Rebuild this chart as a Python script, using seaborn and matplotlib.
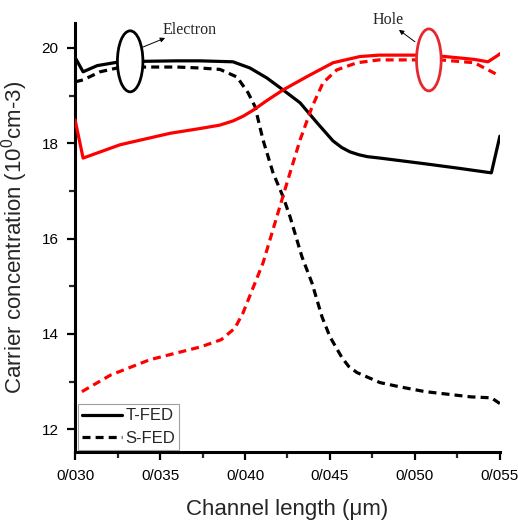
import numpy as np
import pandas as pd
import matplotlib
matplotlib.use("Agg")
import matplotlib.pyplot as plt
import seaborn as sns
from matplotlib.patches import Ellipse
from matplotlib.lines import Line2D

# ---- data ----
x_te = [0.0300, 0.03047, 0.0313, 0.03247, 0.0340, 0.0360, 0.03735, 0.03929, 0.04029, 0.04129,
        0.04224, 0.04324, 0.04424, 0.04518, 0.0457, 0.04618, 0.0467, 0.0472, 0.04794, 0.0506,
        0.0525, 0.0545, 0.0550]
y_te = [19.80, 19.50, 19.63, 19.70, 19.72, 19.73, 19.73, 19.71, 19.58, 19.37,
        19.12, 18.85, 18.43, 18.05, 17.91, 17.82, 17.76, 17.72, 17.69, 17.57,
        17.48, 17.38, 18.15]

x_se = [0.0300, 0.03047, 0.03147, 0.03247, 0.0340, 0.0360, 0.03735, 0.03853, 0.03953, 0.04018,
        0.04059, 0.04106, 0.04165, 0.04224, 0.04265, 0.04335, 0.04394, 0.04453, 0.0450, 0.04571,
        0.0461, 0.04659, 0.04794, 0.04912, 0.0506, 0.0533, 0.0545, 0.0550]
y_se = [19.29, 19.33, 19.50, 19.58, 19.60, 19.60, 19.58, 19.55, 19.39, 19.06,
        18.77, 18.07, 17.38, 16.88, 16.46, 15.62, 15.07, 14.36, 13.94, 13.50,
        13.32, 13.19, 12.98, 12.89, 12.79, 12.68, 12.66, 12.54]

x_th = [0.0300, 0.03047, 0.03265, 0.03559, 0.03735, 0.0385, 0.0393, 0.0399, 0.0405, 0.0413,
        0.04224, 0.04365, 0.04518, 0.04676, 0.0479, 0.0500, 0.0515, 0.0535, 0.0543, 0.0549,
        0.0550]
y_th = [18.49, 17.69, 17.97, 18.21, 18.31, 18.38, 18.47, 18.57, 18.70, 18.90,
        19.12, 19.40, 19.69, 19.82, 19.85, 19.85, 19.83, 19.76, 19.71, 19.85,
        19.88]

x_sh = [0.0304, 0.0321, 0.0344, 0.0374, 0.0386, 0.0394, 0.03988, 0.04106, 0.04194, 0.04247,
        0.04324, 0.04394, 0.04459, 0.0454, 0.04659, 0.0479, 0.0515, 0.0535, 0.0549]
y_sh = [12.79, 13.14, 13.46, 13.73, 13.88, 14.12, 14.44, 15.49, 16.54, 17.17,
        18.07, 18.76, 19.27, 19.54, 19.69, 19.75, 19.75, 19.69, 19.43]

x_ticks = [0.030, 0.035, 0.040, 0.045, 0.050, 0.055]
x_tick_labels = ["0/030", "0/035", "0/040", "0/045", "0/050", "0/055"]
y_ticks = [12, 14, 16, 18, 20]
legend_labels = ["T-FED", "S-FED"]

# ---- style ----
sns.set_style("ticks")
plt.rcParams["font.family"] = ["Liberation Sans", "DejaVu Sans"]
plt.rcParams["mathtext.fontset"] = "custom"
plt.rcParams["mathtext.rm"] = "Liberation Sans"
plt.rcParams["mathtext.it"] = "Liberation Sans"

fig = plt.figure(figsize=(5.18, 5.27), dpi=100)
ax = fig.add_axes([0.145, 0.142, 0.820, 0.814])

lw = 2.3
dash = (0, (2.5, 1.6))
sns.lineplot(x=x_te, y=y_te, color="black", lw=lw, sort=False, ax=ax, zorder=3)
sns.lineplot(x=x_se, y=y_se, color="black", lw=lw, linestyle=dash, sort=False, ax=ax, zorder=3)
sns.lineplot(x=x_th, y=y_th, color="#ff0000", lw=lw, sort=False, ax=ax, zorder=3)
sns.lineplot(x=x_sh, y=y_sh, color="#ff0000", lw=lw, linestyle=dash, sort=False, ax=ax, zorder=3)

ax.set_xlim(0.030, 0.055)
ax.set_ylim(11.52, 20.52)
ax.set_xticks(x_ticks)
ax.set_xticklabels(x_tick_labels)
ax.set_xticks([0.0325, 0.0375, 0.0425, 0.0475, 0.0525], minor=True)
ax.set_yticks(y_ticks)
ax.set_yticks([13, 15, 17, 19], minor=True)
ax.tick_params(axis="both", which="major", direction="out", length=6, width=1.6,
               labelsize=11, colors="black", pad=6)
ax.tick_params(axis="both", which="minor", direction="out", length=4, width=1.6)
for s in ["top", "right"]:
    ax.spines[s].set_visible(False)
for s in ["left", "bottom"]:
    ax.spines[s].set_linewidth(2.2)
    ax.spines[s].set_color("black")

ax.set_xlabel("Channel length (μm)", fontsize=16, labelpad=12)
ax.set_ylabel("Carrier concentration (10$^{0}$cm-3)", fontsize=16, labelpad=8)

# ellipses
ax.add_patch(Ellipse((0.03324, 19.72), 0.00150, 1.28, facecolor="white",
                     edgecolor="black", lw=2.0, zorder=5))
ax.add_patch(Ellipse((0.05082, 19.75), 0.00145, 1.30, facecolor="white",
                     edgecolor="#e8262d", lw=2.0, zorder=5))

# annotations
arrow_kw = dict(arrowstyle="-|>", color="black", lw=0.7, mutation_scale=7,
                shrinkA=0, shrinkB=0)
ax.annotate("", xy=(0.0353, 20.21), xytext=(0.0340, 20.02),
            arrowprops=arrow_kw, zorder=6, annotation_clip=False)
ax.text(0.03515, 20.38, "Electron", fontsize=11.5, family="Liberation Serif",
        ha="left", va="center", zorder=6, clip_on=False)
ax.annotate("", xy=(0.04906, 20.38), xytext=(0.0500, 20.13),
            arrowprops=arrow_kw, zorder=6, annotation_clip=False)
ax.text(0.04753, 20.59, "Hole", fontsize=11.5, family="Liberation Serif",
        ha="left", va="center", zorder=6, clip_on=False)

handles = [Line2D([], [], color="black", lw=lw),
           Line2D([], [], color="black", lw=lw, linestyle=dash)]
leg = ax.legend(handles, legend_labels, loc="lower left", bbox_to_anchor=(0.006, 0.005),
                borderaxespad=0, fontsize=12, handlelength=2.4, handletextpad=0.2,
                frameon=True, fancybox=False, borderpad=0.25, labelspacing=0.45)
leg.get_frame().set_edgecolor("#888888")
leg.get_frame().set_linewidth(0.8)

fig.savefig("out.png", dpi=100)
